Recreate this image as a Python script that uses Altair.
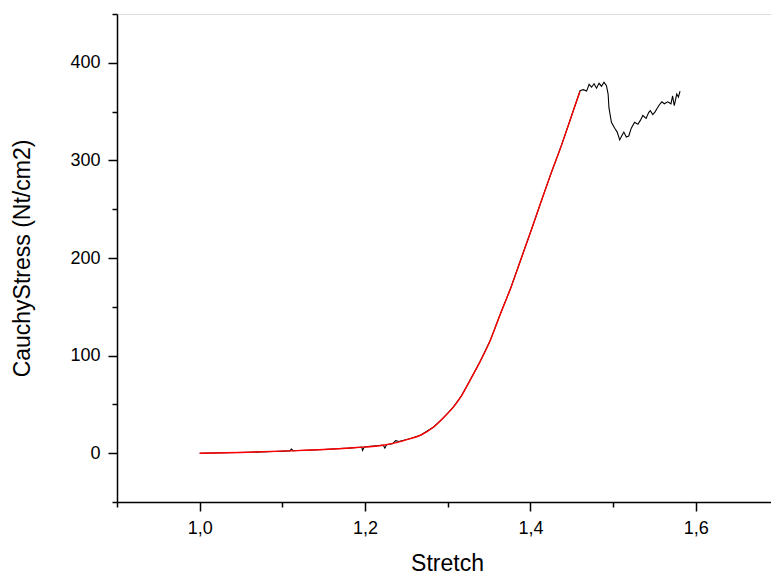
import altair as alt
import pandas as pd

# Fitted (red) curve
fit_x = [1.000, 1.049, 1.109, 1.150, 1.190, 1.222, 1.238, 1.255, 1.267, 1.283,
         1.295, 1.307, 1.317, 1.327, 1.339, 1.351, 1.363, 1.376, 1.388, 1.400,
         1.412, 1.424, 1.437, 1.449, 1.456, 1.460]
fit_y = [0.0, 0.7, 2.4, 3.8, 5.8, 8.2, 10.8, 15.0, 18.4, 26.9,
         36.5, 47.4, 59.3, 74.7, 93.6, 114.6, 141.2, 168.8, 197.4, 226.1,
         255.5, 284.4, 314.1, 343.7, 361.1, 370.6]

# Measured (black) curve
meas_x = [1.000, 1.030, 1.060, 1.090, 1.109, 1.111, 1.113, 1.130, 1.150, 1.165,
          1.180, 1.190, 1.196, 1.197, 1.199, 1.206, 1.214, 1.222, 1.224, 1.226,
          1.233, 1.237, 1.241, 1.255, 1.267, 1.283, 1.295, 1.307, 1.317, 1.327,
          1.339, 1.351, 1.363, 1.376, 1.388, 1.400, 1.412, 1.424, 1.437, 1.449,
          1.456, 1.460, 1.464, 1.468, 1.471, 1.474, 1.477, 1.480, 1.483, 1.486,
          1.489, 1.492, 1.494, 1.495, 1.498, 1.502, 1.505, 1.508, 1.511, 1.513,
          1.516, 1.519, 1.522, 1.526, 1.530, 1.533, 1.536, 1.540, 1.543, 1.545,
          1.548, 1.551, 1.553, 1.556, 1.559, 1.562, 1.566, 1.570, 1.572, 1.574,
          1.577, 1.579, 1.581]
meas_y = [0.0, 0.4, 1.0, 1.8, 2.4, 4.2, 2.5, 3.0, 3.8, 4.6,
          5.2, 5.8, 6.3, 2.8, 6.4, 7.0, 7.6, 8.2, 5.2, 8.6,
          9.6, 12.8, 12.0, 15.0, 18.4, 26.9, 36.5, 47.4, 59.3, 74.7,
          93.6, 114.6, 141.2, 168.8, 197.4, 226.1, 255.5, 284.4, 314.1, 343.7,
          361.1, 371.5, 372.5, 371.0, 378.0, 375.0, 378.5, 374.0, 379.0, 376.0,
          380.0, 376.5, 368.0, 354.0, 339.0, 333.0, 329.0, 321.0, 326.0, 329.0,
          324.0, 325.0, 333.0, 339.0, 337.0, 341.0, 346.0, 343.0, 349.0, 351.0,
          347.0, 350.0, 353.0, 357.0, 360.0, 358.0, 360.0, 358.0, 366.0, 356.0,
          368.0, 365.0, 371.0]

x_ticks = [0.9, 1.0, 1.1, 1.2, 1.3, 1.4, 1.5, 1.6]
y_ticks = [-50, 0, 50, 100, 150, 200, 250, 300, 350, 400, 450]

fit_df = pd.DataFrame({"x": fit_x, "y": fit_y})
meas_df = pd.DataFrame({"x": meas_x, "y": meas_y})

FONT = "Liberation Sans"

x_axis = alt.Axis(
    values=x_ticks,
    title="Stretch",
    grid=False,
    domainColor="black",
    domainWidth=1.5,
    tickColor="black",
    tickWidth=1.5,
    tickSize={"condition": {"test": "round(datum.value*10) % 2 == 0", "value": 9}, "value": 5},
    labelExpr="round(datum.value*10) % 2 == 0 ? replace(format(datum.value, '.1f'), '.', ',') : ''",
    labelFont=FONT,
    labelFontSize=18,
    labelColor="black",
    labelPadding=8,
    titleFont=FONT,
    titleFontSize=23,
    titleFontWeight="normal",
    titleColor="black",
    titleX=330,
    titleY=61,
    titleBaseline="middle",
    titleAlign="center",
)

y_axis = alt.Axis(
    values=y_ticks,
    title="CauchyStress (Nt/cm2)",
    grid=False,
    domainColor="black",
    domainWidth=1.5,
    tickColor="black",
    tickWidth=1.5,
    tickSize={"condition": {"test": "datum.value % 100 == 0", "value": 9}, "value": 5},
    labelExpr="datum.value % 100 == 0 ? format(datum.value, 'd') : ''",
    labelFont=FONT,
    labelFontSize=18,
    labelColor="black",
    labelPadding=8,
    titleFont=FONT,
    titleFontSize=23,
    titleFontWeight="normal",
    titleColor="black",
    titleX=-95,
    titleY=244,
    titleAngle=-90,
    titleBaseline="middle",
    titleAlign="center",
)

xs = alt.Scale(domain=[0.9, 1.691], nice=False, zero=False)
ys = alt.Scale(domain=[-50, 450], nice=False, zero=False)

meas = alt.Chart(meas_df).mark_line(color="black", strokeWidth=1.1).encode(
    x=alt.X("x:Q", scale=xs, axis=x_axis),
    y=alt.Y("y:Q", scale=ys, axis=y_axis),
)

fit = alt.Chart(fit_df).mark_line(color="#ff0000", strokeWidth=1.4, interpolate="monotone").encode(
    x=alt.X("x:Q", scale=xs),
    y=alt.Y("y:Q", scale=ys),
)

chart = alt.layer(meas, fit).properties(
    width=654,
    height=488,
    autosize=alt.AutoSizeParams(type="none"),
    padding={"left": 117, "top": 14, "right": 0, "bottom": 73},
).configure_view(stroke=None).configure(background="white")

chart.save("out.html", embed_options={"renderer": "svg", "actions": False})
